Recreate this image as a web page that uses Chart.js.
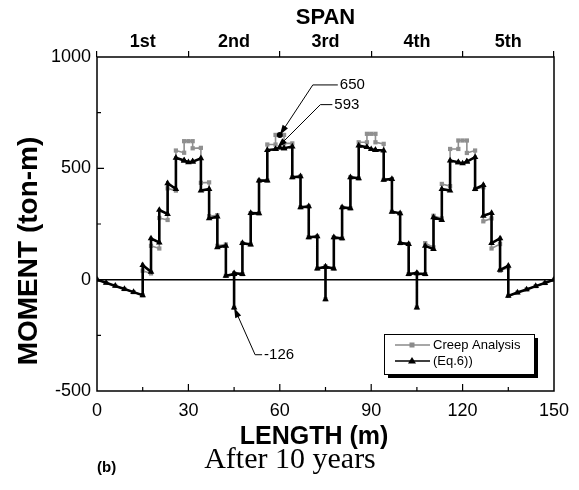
<!DOCTYPE html>
<html><head><meta charset="utf-8">
<script src="https://cdn.jsdelivr.net/npm/chart.js@4"></script>
<style>html,body{margin:0;padding:0;background:#fff}#wrap{width:579px;height:490px}</style>
</head><body><div id="wrap"><canvas id="c" width="579" height="490"></canvas></div>
<script>
// ---- data ----
const lengthM = [
  0,3,6,9,12,15,15,
  17.73,17.73,20.45,20.45,23.18,23.18,25.9,25.9,
  28.6,28.6,30,31.4,31.4,
  34.1,34.1,36.8,36.8,39.5,39.5,42.3,42.3,
  45,45,45,
  47.73,47.73,50.45,50.45,53.18,53.18,55.9,55.9,
  58.6,58.6,60,61.4,61.4,
  64.1,64.1,66.8,66.8,69.5,69.5,72.3,72.3,
  75,75,75,
  77.73,77.73,80.45,80.45,83.18,83.18,85.9,85.9,
  88.6,88.6,90,91.4,91.4,
  94.1,94.1,96.8,96.8,99.5,99.5,102.3,102.3,
  105,105,105,
  107.73,107.73,110.45,110.45,113.18,113.18,115.9,115.9,
  118.6,118.6,120,121.4,121.4,
  124.1,124.1,126.8,126.8,129.5,129.5,132.3,132.3,
  135,135,138,141,144,147,150
];
const creepMoment = [
  0,-14,-28,-42,-56,-70,40,
  28,152,140,277,268,410,400,580,
  570,622,622,622,590,
  592,435,437,285,290,152,158,17,
  25,-126,29,
  25,164,158,299,298,445,445,607,
  607,650,650,650,612,
  612,460,464,325,329,190,194,50,
  58,-88,58,
  50,190,185,325,320,460,455,617,
  617,655,655,655,617,
  610,448,452,305,298,164,160,25,
  30,-125,28,
  25,164,145,287,275,430,420,587,
  587,625,625,625,569,
  580,407,415,262,275,140,160,40,
  55,-73,-58,-44,-29,-15,0
];
const eqMoment = [
  0,-14,-28,-42,-56,-70,65,
  35,185,167,313,295,433,407,547,
  535,535,527,530,530,
  545,400,407,275,283,145,152,17,
  25,-126,29,
  25,164,158,299,298,445,445,582,
  586,586,593,590,590,
  598,460,464,325,329,190,194,50,
  58,-88,58,
  50,190,185,325,320,460,455,602,
  595,595,586,582,582,
  580,448,452,305,298,164,160,25,
  30,-125,28,
  25,152,137,280,268,407,400,535,
  527,527,522,530,530,
  550,407,425,287,299,164,185,44,
  62,-73,-58,-44,-29,-15,0
];
const spanLabels = ['1st','2nd','3rd','4th','5th'];
const seriesNames = ['Creep Analysis','(Eq.6))'];
const calloutPeakCreep = {x:60, y:650, text:'650'};
const calloutPeakEq = {x:59.2, y:593, text:'593'};
const calloutPier = {x:45, y:-126, text:'-126'};

const toPts = ys => lengthM.map((x,i)=>({x:x, y:ys[i]}));
const SANS = '"Liberation Sans", Arial, Helvetica, sans-serif';

function arrowHead(ctx, fx, fy, tx, ty, len, half){
  const ang = Math.atan2(ty-fy, tx-fx);
  ctx.beginPath();
  ctx.moveTo(tx, ty);
  ctx.lineTo(tx - len*Math.cos(ang) + half*Math.sin(ang), ty - len*Math.sin(ang) - half*Math.cos(ang));
  ctx.lineTo(tx - len*Math.cos(ang) - half*Math.sin(ang), ty - len*Math.sin(ang) + half*Math.cos(ang));
  ctx.closePath(); ctx.fill();
}

const decor = {
  id:'decor',
  afterDatasetsDraw(chart){
    const {ctx, chartArea:a, scales:{x,y}} = chart;
    ctx.save();
    ctx.strokeStyle='#000'; ctx.fillStyle='#000';
    // frame
    ctx.lineWidth=1.5;
    ctx.strokeRect(a.left, a.top, a.right-a.left, a.bottom-a.top);
    // inner ticks
    ctx.lineWidth=1.2;
    ctx.beginPath();
    for(let v=15; v<150; v+=15){
      const px = x.getPixelForValue(v), len = v%30===0 ? 7 : 4;
      ctx.moveTo(px, a.bottom); ctx.lineTo(px, a.bottom-len);
    }
    for(let v=-250; v<1000; v+=250){
      if(v===0) continue;
      const py = y.getPixelForValue(v), len = v%500===0 ? 7 : 4;
      ctx.moveTo(a.left, py); ctx.lineTo(a.left+len, py);
    }
    ctx.stroke();

    // callouts
    ctx.lineWidth=1;
    ctx.font='15px '+SANS;
    ctx.textBaseline='middle'; ctx.textAlign='left';
    // 650
    let tx = x.getPixelForValue(calloutPeakCreep.x), ty = y.getPixelForValue(calloutPeakCreep.y);
    let bx = tx+33, by = ty-50;
    ctx.beginPath(); ctx.moveTo(tx+2,ty-3); ctx.lineTo(bx,by); ctx.lineTo(bx+25,by); ctx.stroke();
    arrowHead(ctx, bx, by, tx, ty, 10, 3.2);
    ctx.beginPath(); ctx.arc(tx,ty,3,0,Math.PI*2); ctx.fill();
    ctx.fillText(calloutPeakCreep.text, bx+27, by);
    // 593
    tx = x.getPixelForValue(calloutPeakEq.x); ty = y.getPixelForValue(calloutPeakEq.y);
    bx = tx+43; by = ty-43;
    ctx.beginPath(); ctx.moveTo(tx+2,ty-2); ctx.lineTo(bx,by); ctx.lineTo(bx+12,by); ctx.stroke();
    arrowHead(ctx, bx, by, tx, ty, 10, 3.2);
    ctx.fillText(calloutPeakEq.text, bx+14, by);
    // -126
    tx = x.getPixelForValue(calloutPier.x); ty = y.getPixelForValue(calloutPier.y);
    bx = tx+21; by = ty+47;
    ctx.beginPath(); ctx.moveTo(tx+1,ty+2); ctx.lineTo(bx,by); ctx.lineTo(bx+7,by); ctx.stroke();
    arrowHead(ctx, bx, by, tx, ty, 10, 3.2);
    ctx.fillText(calloutPier.text, bx+9, by);

    // legend
    const lw=150, lh=40, lr=a.right-20, lb=a.bottom-17;
    const lx=lr-lw, ly=lb-lh;
    ctx.fillStyle='#000'; ctx.fillRect(lx+4, ly+4, lw, lh);
    ctx.fillStyle='#fff'; ctx.fillRect(lx, ly, lw, lh);
    ctx.lineWidth=1; ctx.strokeStyle='#000'; ctx.strokeRect(lx+0.5, ly+0.5, lw, lh);
    const rows=[{c:'#8a8a8a', s:'rect', t:seriesNames[0], y:ly+11},{c:'#000', s:'tri', t:seriesNames[1], y:ly+27}];
    ctx.font='13px '+SANS;
    rows.forEach(r=>{
      ctx.strokeStyle=r.c; ctx.fillStyle=r.c; ctx.lineWidth=1.5;
      ctx.beginPath(); ctx.moveTo(lx+11, r.y); ctx.lineTo(lx+46, r.y); ctx.stroke();
      const cx=lx+28;
      if(r.s==='rect'){ ctx.fillRect(cx-2.5, r.y-2.5, 5, 5); }
      else { ctx.beginPath(); ctx.moveTo(cx, r.y-4); ctx.lineTo(cx+4, r.y+2.5); ctx.lineTo(cx-4, r.y+2.5); ctx.closePath(); ctx.fill(); }
      ctx.fillStyle='#000'; ctx.textBaseline='middle';
      ctx.fillText(r.t, lx+49, r.y);
    });

    // y title
    ctx.save();
    ctx.translate(29, (a.top+a.bottom)/2 + 27);
    ctx.rotate(-Math.PI/2);
    ctx.font='bold 28px '+SANS;
    ctx.textAlign='center'; ctx.textBaseline='middle'; ctx.fillStyle='#000';
    ctx.fillText('MOMENT (ton-m)', 0, 0);
    ctx.restore();

    // x title
    ctx.fillStyle='#000'; ctx.textBaseline='middle'; ctx.textAlign='center';
    ctx.font='bold 25px '+SANS;
    ctx.fillText('LENGTH (m)', 314, 437);

    // caption
    ctx.font='bold 15px '+SANS;
    ctx.textAlign='left'; ctx.fillText('(b)', 97, 468);
    ctx.font='30px "Liberation Serif", "Times New Roman", serif';
    ctx.textAlign='center'; ctx.fillText('After 10 years', 290, 460);
    ctx.restore();
  }
};

new Chart(document.getElementById('c'), {
  type:'line',
  data:{datasets:[
    {label:seriesNames[1], data:toPts(eqMoment), borderColor:'#000', backgroundColor:'#000',
     borderWidth:2.6, pointStyle:'triangle', pointRadius:3.8, pointBorderWidth:0, pointBackgroundColor:'#000', tension:0},
    {label:seriesNames[0], data:toPts(creepMoment), borderColor:'#8f8f8f', backgroundColor:'#8f8f8f',
     borderWidth:1.6, pointStyle:'rect', pointRadius:3, pointBorderWidth:0, pointBackgroundColor:'#8f8f8f', tension:0}
  ]},
  options:{
    responsive:false, animation:false, devicePixelRatio:1,
    layout:{padding:{left:0,right:25,top:0,bottom:0}},
    plugins:{legend:{display:false}, tooltip:{enabled:false}},
    scales:{
      x:{type:'linear', position:'bottom', min:0, max:150,
        afterFit(s){ s.height = 99; },
        grid:{display:false}, border:{display:false},
        ticks:{stepSize:30, color:'#000', padding:1, maxRotation:0, autoSkip:false,
          callback:v => String(v),
          font:{family:SANS, size:18}}},
      x2:{type:'linear', position:'top', min:0, max:150,
        afterFit(s){ s.height = 57; },
        grid:{drawOnChartArea:false, drawTicks:true, tickLength:6, lineWidth:1.2,
          color:c => (c.tick && c.tick.value%30===0) ? '#000' : 'rgba(0,0,0,0)'},
        border:{display:false},
        ticks:{stepSize:15, autoSkip:false, maxRotation:0, color:'#000', padding:-2,
          callback:v => (v%30===15) ? spanLabels[(v-15)/30] : '',
          font:{family:SANS, size:18, weight:'bold'}},
        title:{display:true, text:'SPAN', color:'#000', padding:{top:5,bottom:0},
          font:{family:SANS, size:22, weight:'bold'}}},
      y:{type:'linear', position:'left', min:-500, max:1000,
        afterFit(s){ s.width = 97; },
        grid:{drawTicks:false, lineWidth:1.5, color:c => (c.tick && c.tick.value===0) ? '#000' : 'rgba(0,0,0,0)'},
        border:{display:false},
        ticks:{stepSize:500, color:'#000', padding:6, callback:v => String(v),
          font:{family:SANS, size:18}}}
    }
  },
  plugins:[decor]
});
</script></body></html>
